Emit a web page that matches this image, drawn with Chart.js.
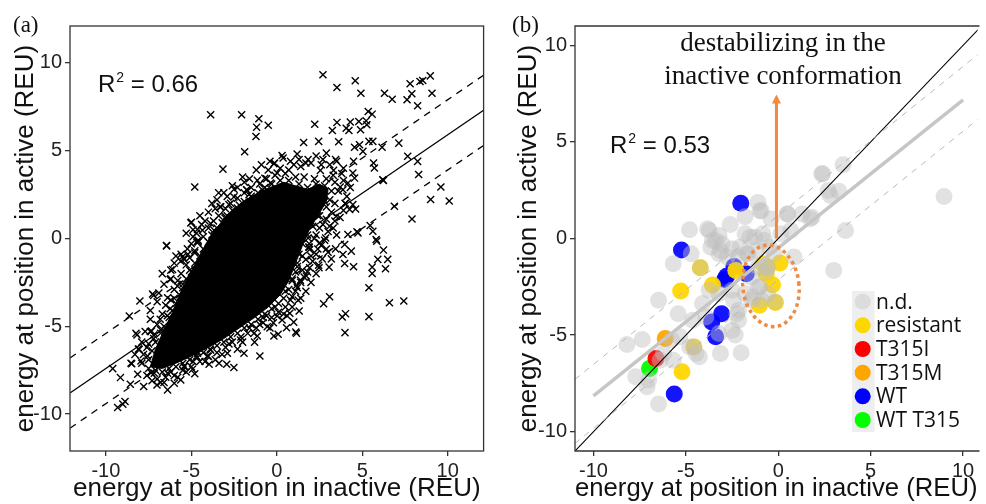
<!DOCTYPE html>
<html>
<head>
<meta charset="utf-8">
<script src="https://cdn.jsdelivr.net/npm/chart.js@4.4.0/dist/chart.umd.min.js"></script>
<style>
  html, body { margin: 0; padding: 0; background: #fff; overflow: hidden; }
  #a { position: absolute; left: 0; top: 0; }
  #b { position: absolute; left: 495px; top: 0; }
</style>
</head>
<body>
<canvas id="a" width="490" height="504"></canvas>
<canvas id="b" width="491" height="504"></canvas>
<script>
// ---- data, panel (a) ----
const ticksA = [-10, -5, 0, 5, 10];
const ticksB = [-10, -5, 0, 5, 10];

// the saturated black centre of the cloud
const coreA = [[-7.4,-7.3],[-7.1,-6.3],[-6.6,-5.2],[-6.1,-4.2],[-5.7,-3.2],[-5.2,-2.2],[-4.7,-1.3],[-4.2,-0.4],
  [-3.7,0.4],[-3.1,1.1],[-2.5,1.7],[-1.8,2.2],[-1.1,2.6],[-0.4,2.9],[0.4,3.2],[1.1,3.0],[1.8,2.8],[2.5,3.1],
  [3.0,2.8],[2.9,2.1],[2.4,1.3],[1.9,0.5],[1.5,-0.4],[1.1,-1.4],[0.7,-2.4],[0.2,-3.2],[-0.5,-3.9],[-1.3,-4.5],
  [-2.2,-5.1],[-3.1,-5.7],[-4.0,-6.2],[-5.0,-6.7],[-5.9,-7.1],[-6.7,-7.4],[-7.4,-7.3]];

// individual crosses around the centre
const crossesA = [
  [-3.87,7.05],[-2.06,7.05],[-1.05,6.82],[-1.18,6.34],[-0.5,6.45],[-1.22,5.81],[-1.88,4.94],[-3.15,3.95],[-4.8,2.93],
  [-0.13,4.3],[-1.14,3.31],[-0.7,3.43],[-0.37,3.16],[-0.85,2.78],[-1.77,2.78],[-1.63,2.5],[-2.51,2.37],[-2.8,1.93],
  [-3.32,1.8],[-3.03,1.17],[-4.99,0.93],[-4.64,0.51],[-4.35,0.47],[-3.87,0.85],[-3.67,0.47],[-2.31,1.74],[-1.92,1.46],
  [-1.38,1.84],[-0.85,2.22],[-0.17,2.59],[0.02,3.73],[-6.45,-0.42],[-5.03,0.89],[-3.28,1.8],[-2.99,1.23],[-1.73,2.74],
  [-0.17,4.26],[0.31,4.73],
  [2.7,9.32],[4.59,8.98],[3.52,8.6],[4.92,8.27],[6.3,8.27],[6.75,7.93],[7.8,8.81],[8.38,8.94],[8.54,9.0],[8.98,9.26],
  [7.9,8.24],[7.62,7.9],[9.08,8.27],[8.24,7.56],[5.35,7.23],[5.58,7.08],[2.22,6.51],[3.52,6.61],[4.3,6.63],[4.8,6.66],
  [5.23,6.7],[5.27,6.48],[3.25,6.15],[4.06,6.28],[4.22,6.15],[4.9,6.19],[1.57,5.47],[2.45,5.53],[3.62,5.51],[4.55,5.2],
  [4.84,5.34],[5.39,5.53],[5.62,5.53],[6.16,5.2],[7.14,5.43],[5.04,4.96],[0.37,4.58],[1.19,4.81],[1.83,4.49],[2.9,4.86],
  [3.44,4.49],[4.49,4.39],[5.66,4.3],[5.71,4.01],[7.66,4.68],[8.24,4.39],[8.3,3.64],[9.6,2.93],[9.0,2.22],[10.09,2.14],
  [7.91,1.11],[6.2,3.35],[4.55,3.44],[4.16,3.16],[4.45,3.73],[3.87,2.78],[4.45,1.93],[4.61,1.68],[4.26,1.65],[6.88,1.84],
  [3.48,1.27],[3.09,0.7],[5.46,0.74],[5.62,0.41],[4.75,0.32],[5.81,-0.06],[4.16,0.23],[4.01,1.99],[4.69,0.38],[3.32,3.88],
  [3.71,2.93],[2.55,3.88],[6.24,3.31],
  [5.85,-0.15],[6.24,-0.66],[5.91,-1.19],[6.49,-1.19],[5.58,-1.63],[6.36,-1.72],[5.58,-1.99],[5.39,-2.8],[6.59,-3.66],
  [7.43,-3.56],[5.39,-4.45],[4.02,-4.28],[3.83,-4.47],[3.99,-5.36],[3.09,-3.32],[2.74,-3.72],[1.25,-3.51],[1.31,-4.13],
  [0.99,-4.76],[1.11,-5.32],[0.76,-4.26],[0.57,-5.08],[0.08,-5.45],[1.15,-2.67],[1.73,-2.14],[1.92,-1.67],[2.47,-1.67],
  [3.06,-1.63],[3.97,-1.42],[2.66,-1.16],[3.19,-1.16],[3.0,-0.78],[3.87,-0.91],[4.36,-0.72],[3.97,-0.34],[2.51,-0.25],
  [1.92,-0.63],[3.44,-0.59],[2.86,0.03],[1.83,0.03],[4.49,-1.61],[2.45,-1.52],[1.87,-0.48],[1.38,-2.37],[0.9,-3.32],
  [0.31,-4.64],[-0.56,-5.02],[-1.34,-5.4],[-2.12,-5.78],[1.15,-5.4],[-0.17,-5.55],[-1.14,-5.55],[0.02,-4.41],
  [-6.45,-0.4],[-5.23,-0.59],[-4.68,-0.21],[-4.8,-0.82],[-5.62,-1.29],[-5.42,-1.19],[-6.1,-1.76],[-6.24,-2.33],
  [-5.81,-2.71],[-6.39,-3.37],[-7.21,-3.24],[-8.01,-3.56],[-8.63,-4.41],[-6.82,-4.6],[-6.24,-4.0],[-8.18,-5.49],
  [-7.33,-5.27],[-8.49,-7.13],[-9.6,-7.41],[-9.15,-7.92],[-8.57,-8.3],[-7.79,-8.43],[-7.01,-8.34],[-6.39,-8.62],
  [-6.0,-8.24],[-5.62,-8.05],[-9.31,-9.62],[-9.01,-9.43],[-8.88,-9.28],[-8.14,-7.73],[-7.95,-6.97],[-8.05,-6.31],
  [-7.56,-6.69],[-4.93,-7.44],[-3.96,-7.16],[-3.38,-7.1],[-2.93,-7.16],[-2.51,-7.35],[-1.92,-6.53],[-0.99,-6.69],
  [-4.06,-6.69],[-4.64,-6.78],[-5.42,-7.26],[-6.97,-7.07],[-7.36,-7.64],[-5.52,-1.04],[-6.2,-1.8],[-7.27,-3.16],
  [-8.53,-7.1],[-7.4,-5.3],[-8.24,-5.4],[-6.39,-7.67],[-7.17,-7.67],[-2.89,-6.53],[-3.87,-6.35],[-4.64,-6.53],[-5.42,-7.3]
];

// dense ring of crosses hugging the black centre
const haloA = [
  [-7.5,-6.9],[-7.3,-6.4],[-7.1,-5.9],[-6.8,-5.4],[-6.6,-5.0],[-6.3,-4.5],[-6.1,-4.1],[-5.9,-3.7],[-5.7,-3.2],[-5.5,-2.8],
  [-5.3,-2.3],[-5.0,-1.9],[-4.8,-1.4],[-4.5,-1.0],[-4.3,-0.6],[-4.0,-0.2],[-3.8,0.2],[-3.5,0.6],[-3.2,0.9],[-2.9,1.3],
  [-2.6,1.6],[-2.2,1.9],[-1.9,2.1],[-1.5,2.4],[-1.1,2.6],[-0.7,2.9],[-0.3,3.1],[0.2,3.3],[0.7,3.3],
  [-7.8,-6.6],[-7.5,-6.0],[-7.2,-5.5],[-7.0,-4.9],[-6.7,-4.3],[-6.5,-3.8],[-6.2,-3.5],[-6.0,-2.9],[-5.8,-2.4],[-5.6,-2.0],
  [-5.3,-1.5],[-5.1,-1.1],[-4.8,-0.7],[-4.6,-0.2],[-4.3,0.1],[-4.0,0.6],[-3.7,1.0],[-3.4,1.3],[-3.0,1.7],[-2.7,2.0],
  [-2.3,2.3],[-1.9,2.6],[-1.5,2.9],[-1.0,3.1],[-0.6,3.4],[-0.1,3.6],[0.5,3.7],[1.1,3.5],
  [1.3,3.1],[1.8,2.9],[2.3,3.1],[2.8,3.0],[3.2,2.7],[3.1,2.2],[2.9,1.8],[2.5,1.3],[2.1,0.7],[1.8,0.2],[1.5,-0.3],
  [1.6,3.5],[2.2,3.4],[2.9,3.4],[3.4,3.2],[3.6,2.7],[3.4,2.0],[3.2,1.5],[2.9,1.1],[2.5,0.6],[2.2,0.0],[1.9,-0.5],
  [1.3,-0.9],[1.2,-1.4],[1.1,-1.9],[0.9,-2.4],[0.7,-2.9],[0.4,-3.4],[0.1,-3.7],[-0.3,-4.0],[-0.7,-4.3],[-1.1,-4.6],
  [-1.5,-4.9],[-1.9,-5.1],[-2.3,-5.4],[-2.7,-5.6],[-3.1,-5.9],[-3.5,-6.1],[-3.9,-6.3],[-4.3,-6.5],[-4.7,-6.7],[-5.1,-6.9],
  [-5.5,-7.1],[-5.9,-7.3],[-6.3,-7.4],[-6.7,-7.6],[-7.1,-7.5],[-7.5,-7.4],
  [1.7,-1.2],[1.5,-1.8],[1.4,-2.5],[1.1,-3.0],[0.8,-3.5],[0.5,-3.9],[0.1,-4.2],[-0.3,-4.5],[-0.8,-4.8],[-1.2,-5.1],
  [-1.7,-5.4],[-2.1,-5.6],[-2.6,-5.9],[-3.0,-6.2],[-3.5,-6.5],[-4.0,-6.7],[-4.5,-7.0],[-5.0,-7.3],[-5.5,-7.5],[-6.0,-7.8],
  [-6.5,-7.9],[-7.0,-8.0],[-7.6,-7.8],
  [0.8,4.4],[1.4,4.1],[2.0,4.3],[2.7,4.5],[3.1,4.2],[3.9,4.0],[3.3,3.6],[4.1,2.4],[3.9,1.6],[3.4,1.0],[3.0,0.4],
  [2.6,-0.4],[2.3,-0.9],[2.1,-1.3],[2.9,-0.6],[3.5,0.2],[2.0,-2.5],[1.7,-3.0],[1.4,-3.4],[-1.9,3.2],[-2.5,2.8],
  [-3.6,1.7],[-4.4,0.8],[-4.9,0.1],[-5.6,-0.9],[-6.0,-1.4],[-6.6,-2.6],[-7.0,-3.6],[-7.4,-4.6],[-7.9,-5.9],[-8.3,-6.6],
  [-6.8,-8.2],[-5.8,-7.9],[-4.8,-7.7],[-3.6,-6.9],[-2.3,-6.3],[-1.3,-5.9],[-0.4,-5.1],[0.6,-4.4],
  [1.6,0.6],[2.0,1.0],[2.3,0.2],[1.9,-0.3],[2.7,0.8],[2.4,1.3],[1.5,-1.0],[1.2,-1.6],[0.9,-2.3],[0.5,-3.0],[-0.1,-3.9],
  [-0.8,-4.5],[2.2,2.2],[1.0,4.2],[-0.5,3.9],[-1.6,3.4],[-2.3,2.9],[-3.5,2.2],[-4.2,1.0],[-4.6,-0.1],[-5.1,-1.8],
  [-5.5,-2.6],[-6.0,-3.4],[-6.4,-4.4],[-6.8,-5.2],[-7.2,-5.7],[-7.6,-6.2],[-3.1,2.6],[2.8,2.1],[3.9,3.3],[1.7,4.3],[-0.9,4.2],
  [-5.3,0.3],[-4.9,0.5],[-4.5,1.3],[-4.0,1.5],[-3.8,2.0],[-3.4,2.6],[-2.9,2.4],[-2.6,3.0],[-2.0,3.5],[-1.2,3.9],
  [-0.4,4.4],[0.2,4.0],[0.7,3.9],[1.3,4.5],[2.3,4.7],[2.6,4.2],[3.5,4.4],[3.8,3.7],[4.3,2.9],[4.0,2.0],
  [3.7,1.2],[3.3,0.6],[2.8,-0.1],[2.4,-0.6],[2.0,-1.0],[1.8,-1.9],[1.6,-2.2],[2.3,-2.0],[1.2,-2.8],[0.9,-3.9],
  [0.4,-4.3],[-0.2,-4.8],[-0.6,-4.4],[-1.0,-4.9],[-1.6,-5.1],[-2.0,-5.9],[-2.8,-6.0],[-3.2,-6.6],[-4.2,-7.0],[-4.9,-7.0],
  [-5.3,-7.6],[-6.2,-7.6],[-6.6,-8.2],[-7.3,-8.1],[-7.9,-7.1],[-8.1,-6.3],[-7.7,-5.3],[-7.4,-4.1],[-6.9,-3.1],[-6.7,-2.0],
  [-6.2,-2.3],[-5.9,-1.0],[-5.2,-0.9],[-5.0,-0.3],[-4.7,0.3]
];

const fitA = [[-12.1, -8.8], [12.1, 7.3]];
const upperA = [[-12.1, -6.8], [12.1, 9.3]];
const lowerA = [[-12.1, -10.8], [12.1, 5.3]];

// ---- data, panel (b) ----
const legendLabels = ['n.d.', 'resistant', 'T315I', 'T315M', 'WT', 'WT T315'];
const legendColors = ['#dcdcdc', '#FFD700', '#FF0000', '#FFA500', '#0000FF', '#00FF00'];

const ndPts = [
  [3.5,3.82],[2.4,3.37],[3.28,2.44],[2.82,2.22],[8.97,2.17],[3.64,0.41],[3.0,-1.65],[1.82,1.1],[1.29,1.27],[0.49,1.27],
  [-0.39,1.01],[-1.09,1.87],[-1.0,1.44],[-1.8,1.13],[-2.6,0.72],[-3.74,0.41],[-4.8,0.45],[-3.57,-0.1],[-3.21,0.15],
  [-3.04,-0.28],[-2.51,-0.53],[-1.8,0.24],[-1.27,0.07],[-0.74,-0.1],[-1.62,-0.79],[-2.15,-0.96],[-3.21,-0.79],
  [-4.71,-0.79],[-5.68,-1.31],[-1.09,-1.48],[-1.45,-2.0],[-1.09,-2.51],[-1.8,-2.86],[-2.5,-2.68],[-3.21,-2.86],
  [-4.1,-3.37],[-3.74,-2.68],[-6.48,-3.2],[-5.42,-3.89],[-2.15,-3.72],[-2.15,-4.23],[-2.5,-4.75],[-2.33,-5.0],
  [-3.21,-4.92],[-4.63,-4.23],[-3.92,-4.06],[-5.33,-5.09],[-5.77,-5.26],[-7.36,-5.23],[-8.19,-5.49],[-4.8,-5.61],
  [-4.27,-6.12],[-4.45,-5.95],[-3.13,-5.95],[-2.01,-5.92],[-6.21,-5.95],[-6.39,-6.3],[-7.72,-7.16],[-7.1,-7.67],
  [-7.01,-7.33],[-6.48,-8.57],[-5.68,-6.3],[0.85,-0.96],[0.67,0.41],[0.14,0.24],[-0.21,-0.79],[-0.56,-1.48],
  [-0.56,-2.86],[-1.45,-3.2],[-0.92,-3.2],[-4.22,-1.51],[-4.57,-5.61],[-0.65,-1.74],[-0.16,-3.29],[-0.6,-1.5],
  [-3.83,0.5],[-0.92,1.44],[0.5,1.27],[1.73,1.02],[2.7,2.48],[2.35,3.34],[-3.39,-0.1],[-3.13,-0.62],[-2.07,-0.45],
  [-1.54,0.07],[-0.83,0.24],[-1.71,-0.79],[-1.18,-0.62],[-0.48,-0.45],[-2.77,-0.96],[-3.65,-0.45],[-1.0,-2.51],
  [-1.36,-3.03],[-2.42,-3.2],[-2.24,-3.89]
];
const resistantPts = [[-4.22,-1.51],[-2.3,-1.65],[-3.56,-2.41],[-5.28,-2.72],[0.09,-1.27],[-0.65,-1.82],[-0.31,-2.4],
  [-1.02,-3.46],[-0.16,-3.31],[-4.57,-5.61],[-5.21,-6.9],[-0.83,-1.31],[-0.6,-1.5]];
const t315iPts = [[-6.62,-6.21]];
const t315mPts = [[-6.12,-5.18]];
const wtPts = [[-2.03,1.82],[-5.24,-0.6],[-2.4,-1.45],[-2.8,-1.95],[-2.9,-2.12],[-1.73,-1.82],[-3.07,-3.89],
  [-3.6,-4.32],[-3.39,-5.09],[-5.63,-8.05]];
const wtT315Pts = [[-6.97,-6.73]];

const identityB = [[-11, -11], [11, 11]];
const fitB = [[-10, -8.15], [10, 7.17]];
const upperB = [[-11, -7.29], [11, 9.68]];
const lowerB = [[-11, -10.6], [11, 6.32]];
const arrowB = [[-0.1, 0], [-0.1, 7.45]];
const ellipseB = [-0.4, -2.45, 1.52, 2.12]; // centre x, centre y, radius x, radius y

// ---- helpers ----
Chart.defaults.font.family = '"Liberation Sans", Arial, sans-serif';
const toXY = arr => arr.map(([x, y]) => ({ x, y }));

function axis(min, max, ticks, title, size, titlePad) {
  return {
    type: 'linear', min: min, max: max,
    afterBuildTicks: s => { s.ticks = ticks.map(v => ({ value: v })); },
    afterFit: s => { if (s.isHorizontal()) s.height = size; else s.width = size; },
    grid: { drawOnChartArea: false, tickLength: 5, color: '#333', lineWidth: 1.3 },
    border: { display: false },
    ticks: { font: { size: 20 }, color: '#222', padding: 3, maxRotation: 0 },
    title: { display: true, text: title, font: { size: 26 }, color: '#111', padding: titlePad }
  };
}

function lineSet(pts, color, width, dash, order) {
  return { data: toXY(pts), showLine: true, borderColor: color, borderWidth: width, borderDash: dash || [],
    pointRadius: 0, tension: 0, order: order };
}

function drawR2(ctx, x, y, val) {
  ctx.save();
  ctx.fillStyle = '#111';
  ctx.textAlign = 'left';
  ctx.textBaseline = 'alphabetic';
  ctx.font = '24px "Liberation Sans"';
  ctx.fillText('R', x, y);
  let w = ctx.measureText('R').width + 1;
  ctx.font = '14px "Liberation Sans"';
  ctx.fillText('2', x + w, y - 10);
  w += ctx.measureText('2').width;
  ctx.font = '24px "Liberation Sans"';
  ctx.fillText(' = ' + val, x + w, y);
  ctx.restore();
}

// ---- panel (a) ----
const decorA = {
  id: 'decorA',
  afterDraw(chart) {
    const ctx = chart.ctx, a = chart.chartArea;
    ctx.save();
    ctx.strokeStyle = '#333';
    ctx.lineWidth = 1.3;
    ctx.strokeRect(a.left, a.top, a.right - a.left, a.bottom - a.top);
    ctx.fillStyle = '#111';
    ctx.font = '23px "Liberation Serif"';
    ctx.textBaseline = 'alphabetic';
    ctx.fillText('(a)', 13, 32);
    ctx.restore();
    drawR2(ctx, 98, 92, '0.66');
  }
};

new Chart(document.getElementById('a'), {
  type: 'scatter',
  data: {
    datasets: [
      { data: toXY(coreA), showLine: true, fill: 'shape', backgroundColor: '#000', borderColor: '#000',
        borderWidth: 1, pointRadius: 0, tension: 0, order: 3 },
      { data: toXY(crossesA.concat(haloA)), pointStyle: 'crossRot', pointRadius: 5, pointBorderWidth: 1.4,
        borderColor: '#000', backgroundColor: '#000', order: 2 },
      lineSet(fitA, '#000', 1.3, null, 1),
      lineSet(upperA, '#000', 1.3, [7, 6], 1),
      lineSet(lowerA, '#000', 1.3, [7, 6], 1)
    ]
  },
  options: {
    responsive: false, animation: false, events: [],
    layout: { padding: { left: 0, right: 6, top: 26, bottom: 0 } },
    plugins: { legend: { display: false }, tooltip: { enabled: false } },
    scales: {
      x: axis(-12.1, 12.1, ticksA, 'energy at position in inactive (REU)', 53, { top: 0, bottom: 0 }),
      y: axis(-12.1, 12.1, ticksA, 'energy at position in active (REU)', 70, { top: 10, bottom: 0 })
    }
  },
  plugins: [decorA]
});

// ---- panel (b) ----
const decorB = {
  id: 'decorB',
  afterDraw(chart) {
    const ctx = chart.ctx, a = chart.chartArea;
    const sx = chart.scales.x, sy = chart.scales.y;
    ctx.save();
    // frame (right side falls outside the picture)
    ctx.strokeStyle = '#333';
    ctx.lineWidth = 1.3;
    ctx.beginPath();
    ctx.moveTo(a.right + 2, a.top); ctx.lineTo(a.left, a.top);
    ctx.lineTo(a.left, a.bottom); ctx.lineTo(a.right + 2, a.bottom);
    ctx.stroke();

    // arrow
    const ax = sx.getPixelForValue(arrowB[0][0]);
    const y0 = sy.getPixelForValue(arrowB[0][1]);
    const y1 = sy.getPixelForValue(arrowB[1][1]);
    ctx.strokeStyle = '#EF8A3F';
    ctx.fillStyle = '#EF8A3F';
    ctx.lineWidth = 3;
    ctx.beginPath(); ctx.moveTo(ax, y0); ctx.lineTo(ax, y1 + 8); ctx.stroke();
    ctx.beginPath(); ctx.moveTo(ax, y1); ctx.lineTo(ax - 4.5, y1 + 9); ctx.lineTo(ax + 4.5, y1 + 9); ctx.closePath(); ctx.fill();

    // dotted ellipse
    const [cx, cy, rx, ry] = ellipseB;
    const px = sx.getPixelForValue(cx), py = sy.getPixelForValue(cy);
    const prx = Math.abs(sx.getPixelForValue(cx + rx) - px), pry = Math.abs(sy.getPixelForValue(cy + ry) - py);
    ctx.lineWidth = 3.5;
    ctx.setLineDash([3.5, 3.5]);
    ctx.beginPath(); ctx.ellipse(px, py, prx, pry, -0.12, 0, Math.PI * 2); ctx.stroke();
    ctx.setLineDash([]);

    // texts
    ctx.fillStyle = '#111';
    ctx.textBaseline = 'alphabetic';
    ctx.font = '23px "Liberation Serif"';
    ctx.fillText('(b)', 17, 32);
    ctx.font = '27px "Liberation Serif"';
    ctx.textAlign = 'center';
    ctx.fillText('destabilizing in the', 288, 51);
    ctx.fillText('inactive conformation', 288, 84);

    // legend
    ctx.fillStyle = '#eeeeee';
    ctx.fillRect(357, 291, 22.6, 141);
    ctx.textAlign = 'left';
    ctx.textBaseline = 'middle';
    ctx.font = '21px "Open Sans"';
    legendLabels.forEach((lab, i) => {
      const yy = 301.7 + i * 23.66;
      ctx.fillStyle = legendColors[i];
      ctx.beginPath(); ctx.arc(367.7, yy, 8, 0, Math.PI * 2); ctx.fill();
      ctx.fillStyle = '#111';
      ctx.fillText(lab, 381, yy + 1);
    });
    ctx.restore();
    drawR2(ctx, 115, 153, '0.53');
  }
};

function dots(pts, color, order) {
  return { data: toXY(pts), pointStyle: 'circle', pointRadius: 8.5, pointBorderWidth: 0,
    backgroundColor: color, borderColor: color, order: order };
}

new Chart(document.getElementById('b'), {
  type: 'scatter',
  data: {
    datasets: [
      lineSet(upperB, '#b9b9b9', 1, [6, 6], 0),
      lineSet(lowerB, '#b9b9b9', 1, [6, 6], 0),
      lineSet(fitB, '#c6c6c6', 3.5, null, 0),
      lineSet(identityB, '#000', 1.1, null, 0),
      dots(ndPts, 'rgba(190,190,190,0.45)', 1),
      dots(resistantPts, 'rgba(255,215,0,0.95)', 2),
      dots(t315iPts, 'rgba(255,0,0,0.95)', 2),
      dots(t315mPts, 'rgba(255,165,0,0.95)', 2),
      dots(wtPts, 'rgba(0,0,255,0.92)', 3),
      dots(wtT315Pts, 'rgba(0,255,0,0.95)', 2)
    ]
  },
  options: {
    responsive: false, animation: false, events: [],
    layout: { padding: { left: 0, right: 0, top: 26, bottom: 0 } },
    plugins: { legend: { display: false }, tooltip: { enabled: false } },
    scales: {
      x: axis(-11, 10.78, ticksB, 'energy at position in inactive (REU)', 53, { top: 0, bottom: 0 }),
      y: axis(-11, 11, ticksB, 'energy at position in active (REU)', 80, { top: 18, bottom: 0 })
    }
  },
  plugins: [decorB]
});
</script>
</body>
</html>
